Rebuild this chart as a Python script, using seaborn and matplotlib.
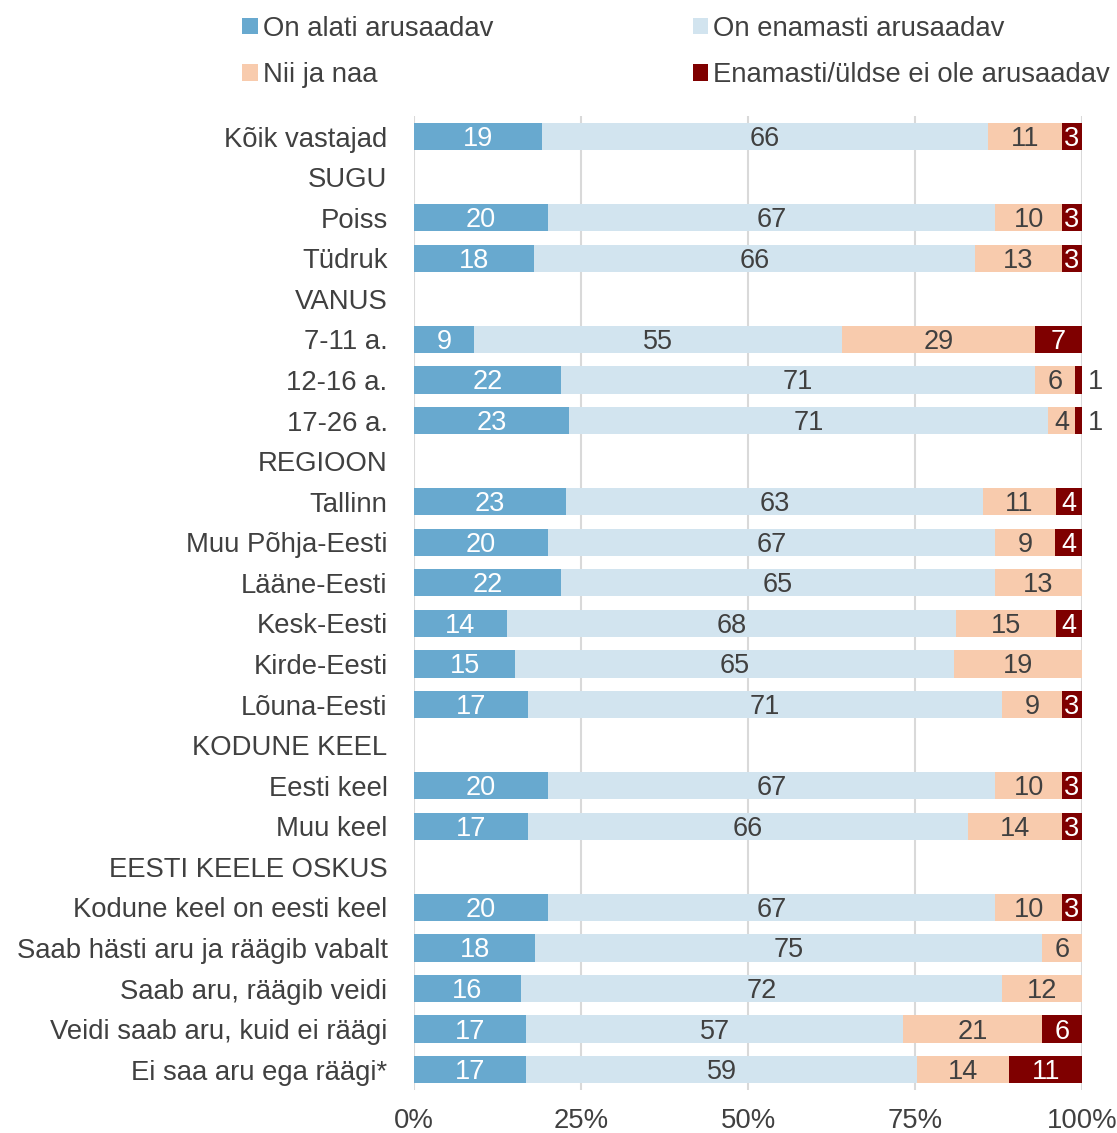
import matplotlib
matplotlib.use("Agg")
import matplotlib.pyplot as plt
from matplotlib.patches import Patch
import seaborn as sns
import numpy as np
import pandas as pd

rows = ["Kõik vastajad", "SUGU", "Poiss", "Tüdruk", "VANUS", "7-11 a.", "12-16 a.",
        "17-26 a.", "REGIOON", "Tallinn", "Muu Põhja-Eesti", "Lääne-Eesti", "Kesk-Eesti",
        "Kirde-Eesti", "Lõuna-Eesti", "KODUNE KEEL", "Eesti keel", "Muu keel",
        "EESTI KEELE OSKUS", "Kodune keel on eesti keel", "Saab hästi aru ja räägib vabalt",
        "Saab aru, räägib veidi", "Veidi saab aru, kuid ei räägi", "Ei saa aru ega räägi*"]
headers = ["SUGU", "VANUS", "REGIOON", "KODUNE KEEL", "EESTI KEELE OSKUS"]
groups = [r for r in rows if r not in headers]

alati = [19, 20, 18, 9, 22, 23, 23, 20, 22, 14, 15, 17, 20, 17, 20, 18, 16, 17, 17]
enamasti = [66, 67, 66, 55, 71, 71, 63, 67, 65, 68, 65, 71, 67, 66, 67, 75, 72, 57, 59]
nii_ja_naa = [11, 10, 13, 29, 6, 4, 11, 9, 13, 15, 19, 9, 10, 14, 10, 6, 12, 21, 14]
ei_ole = [3, 3, 3, 7, 1, 1, 4, 4, 0, 4, 0, 3, 3, 3, 3, 0, 0, 6, 11]

series = ["On alati arusaadav", "On enamasti arusaadav", "Nii ja naa",
          "Enamasti/üldse ei ole arusaadav"]
colors = ["#68A9CF", "#D2E4EF", "#F8CBAD", "#7F0000"]
text_colors = ["white", "#404040", "#404040", "white"]
gray = "#404040"

df = pd.DataFrame({"grupp": groups, series[0]: alati, series[1]: enamasti,
                   series[2]: nii_ja_naa, series[3]: ei_ole})
total = df[series].sum(axis=1)
for s in series:
    df["osa " + s] = df[s] / total * 100
cum = df[["osa " + s for s in series]].cumsum(axis=1)
for i, s in enumerate(series):
    df["kum " + s] = cum.iloc[:, i]

sns.set_style("white")
plt.rcParams["font.family"] = ["Liberation Sans", "DejaVu Sans"]

fig = plt.figure(figsize=(11.17, 11.33), dpi=100)
ax = fig.add_axes([0.3706, 0.038, 0.5981, 0.8594])

for s, c in reversed(list(zip(series, colors))):
    sns.barplot(data=df, x="kum " + s, y="grupp", order=rows, orient="h", color=c,
                saturation=1, width=0.67, errorbar=None, linewidth=0, ax=ax)

for _, r in df.iterrows():
    y = rows.index(r["grupp"]) + 0.06
    start = 0
    for s, tc in zip(series, text_colors):
        w = r["osa " + s]
        if r[s] > 0:
            if w < 2:
                ax.text(100.8, y, str(r[s]), ha="left", va="center", fontsize=19.5, color=gray)
            else:
                ax.text(start + w / 2, y, str(r[s]), ha="center", va="center",
                        fontsize=19.5, color=tc)
        start += w

ax.set_xlim(0, 100)
ax.set_ylim(len(rows) - 0.5, -0.5)
ax.set_xticks([0, 25, 50, 75, 100])
ax.set_xticklabels(["0%", "25%", "50%", "75%", "100%"])
ax.grid(axis="x", color="#D9D9D9", linewidth=1.5)
ax.set_axisbelow(True)
ax.set_xlabel("")
ax.set_ylabel("")
ax.tick_params(axis="both", length=0, labelsize=19.8, labelcolor=gray)
ax.tick_params(axis="y", pad=19)
ax.tick_params(axis="x", pad=13)
sns.despine(ax=ax, left=True, bottom=True)

handles = [Patch(facecolor=c, edgecolor="none") for c in colors]
order = [0, 2, 1, 3]
fig.legend([handles[i] for i in order], [series[i] for i in order], ncol=2,
           loc="upper left", bbox_to_anchor=(0.217, 0.986), frameon=False,
           fontsize=19.8, labelcolor=gray, handlelength=0.55, handleheight=0.55,
           handletextpad=0.2, columnspacing=7.25, labelspacing=0.75, borderpad=0,
           borderaxespad=0)

fig.savefig("out.png", dpi=100)
